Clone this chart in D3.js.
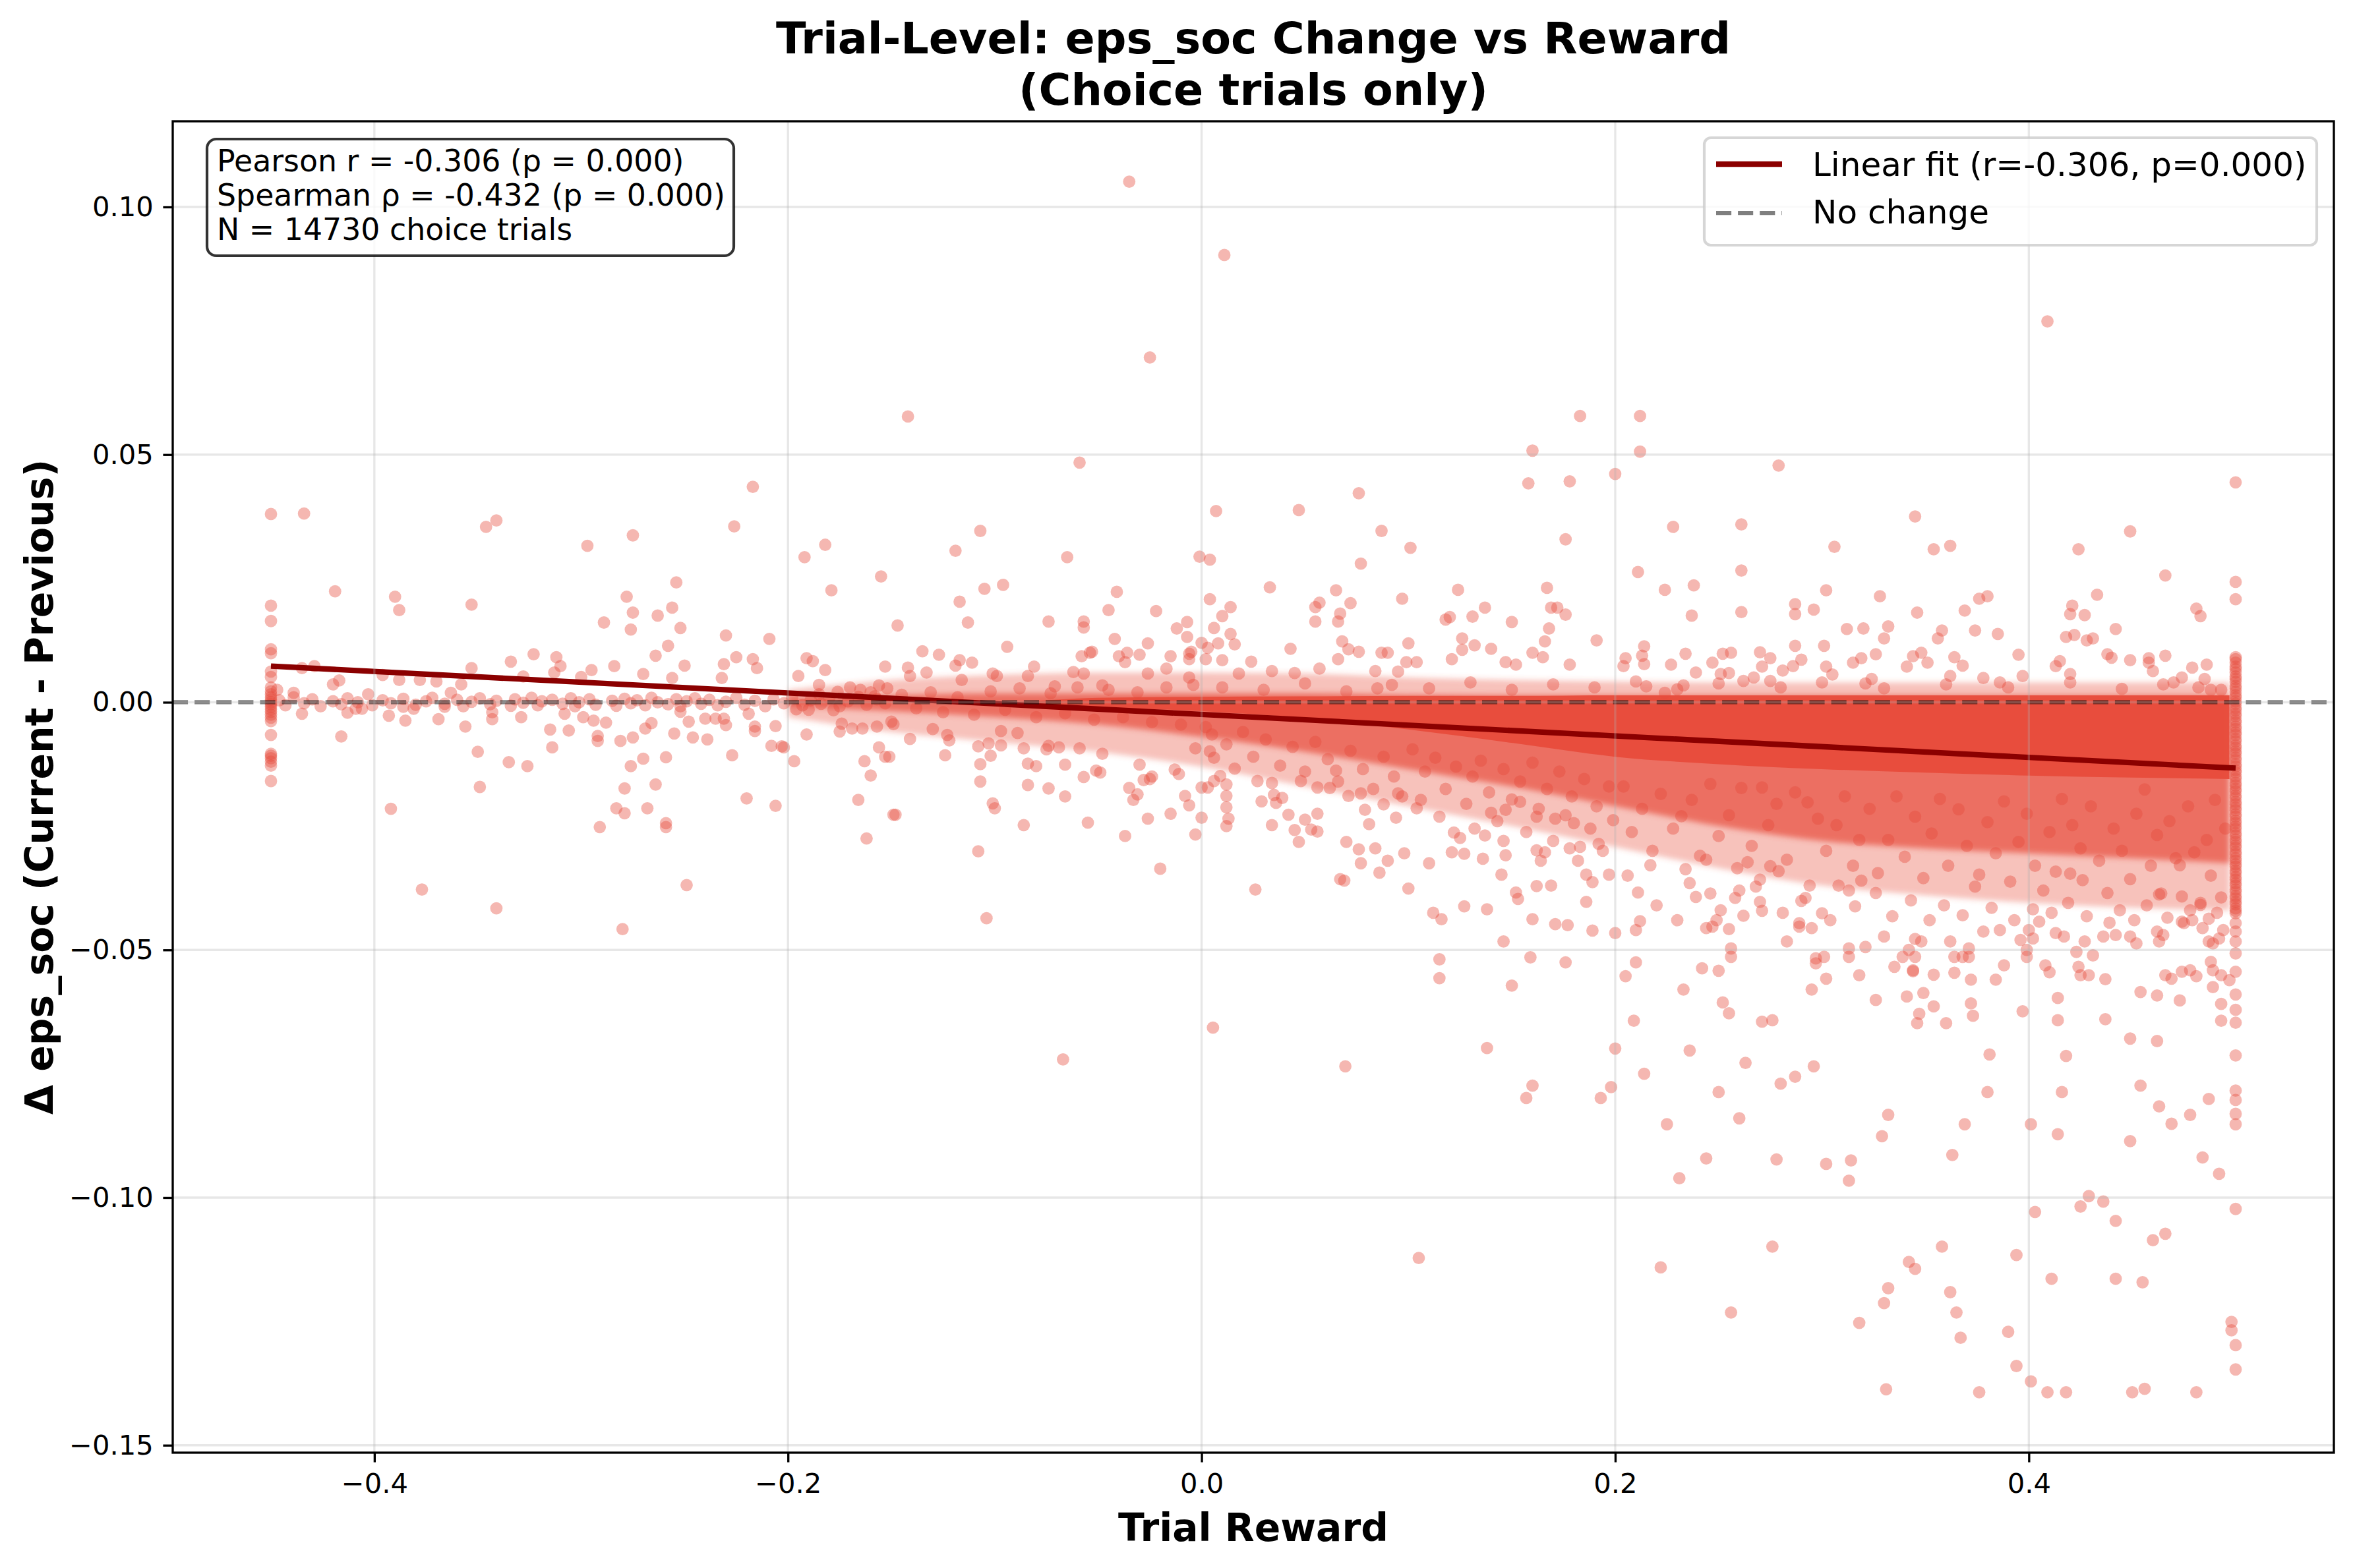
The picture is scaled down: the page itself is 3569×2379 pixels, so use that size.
<!DOCTYPE html>
<html><head><meta charset="utf-8">
<script src="https://cdn.jsdelivr.net/npm/d3@7"></script>
<style>body{margin:0;background:#fff}svg{display:block}</style>
</head><body>
<svg id="chart" width="3569" height="2379"></svg>
<script>
// ---------- data ----------
const xTicks = [-0.4, -0.2, 0.0, 0.2, 0.4];
const yTicks = [-0.15, -0.10, -0.05, 0.00, 0.05, 0.10];
const fitX = [-0.45, 0.5];
const fitY = [0.0073, -0.0133];
const statsLines = ["Pearson r = -0.306 (p = 0.000)", "Spearman \u03c1 = -0.432 (p = 0.000)", "N = 14730 choice trials"];
const legendLabels = ["Linear fit (r=-0.306, p=0.000)", "No change"];

// density envelope of the saturated cloud
const bandX     = [-0.20, -0.15, -0.10, -0.05, 0.00, 0.05, 0.10, 0.15, 0.20, 0.25, 0.30, 0.35, 0.40, 0.45, 0.497];
const outerTop  = [0.0025, 0.0045, 0.0055, 0.0060, 0.0060, 0.0058, 0.0050, 0.0045, 0.0042, 0.0040, 0.0040, 0.0040, 0.0040, 0.0040, 0.0040];
const outerBot  = [-0.0030, -0.0060, -0.0080, -0.0100, -0.0130, -0.0170, -0.0210, -0.0250, -0.0292, -0.0335, -0.0370, -0.0390, -0.0405, -0.0415, -0.0420];
const innerTop  = [0.0008, 0.0014, 0.0018, 0.0018, 0.0018, 0.0018, 0.0015, 0.0014, 0.0014, 0.0014, 0.0014, 0.0014, 0.0014, 0.0014, 0.0014];
const innerBot  = [-0.0008, -0.0018, -0.0030, -0.0045, -0.0070, -0.0100, -0.0135, -0.0170, -0.0210, -0.0250, -0.0280, -0.0295, -0.0305, -0.0315, -0.0325];
const coreTop   = [0.0000, 0.0000, 0.0000, 0.0009, 0.0011, 0.0012, 0.0013, 0.0013, 0.0014, 0.0014, 0.0014, 0.0014, 0.0014, 0.0014, 0.0014];
const coreBot   = [0.0000, 0.0000, 0.0000, -0.0010, -0.0018, -0.0032, -0.0055, -0.0082, -0.0110, -0.0125, -0.0135, -0.0142, -0.0148, -0.0152, -0.0155];

// individual trials, x = reward, y = change
const colLeftY = [0.038, 0.0195, 0.0164, 0.0107, 0.0099, 0.0062, 0.0051, 0.0030, 0.0022, 0.0016, 0.0010, 0.0005, 0.0000, -0.0004, -0.0009, -0.0014, -0.0019, -0.0025, -0.0031, -0.0038, -0.0066, -0.0104, -0.0108, -0.0113, -0.0120, -0.0128, -0.0159];
const colRightY = [0.0091, 0.0087, 0.0080, 0.0072, 0.0067, 0.0060, 0.0052, 0.0047, 0.0041, 0.0033, 0.0028, 0.0021, 0.0014, 0.0009, 0.0002, -0.0003, -0.0011, -0.0016, -0.0023, -0.0028, -0.0036, -0.0041, -0.0049, -0.0054, -0.0061, -0.0066, -0.0074, -0.0079, -0.0087, -0.0092, -0.0099, -0.0104, -0.0112, -0.0117, -0.0125, -0.0130, -0.0137, -0.0142, -0.0150, -0.0155, -0.0163, -0.0168, -0.0175, -0.0180, -0.0188, -0.0193, -0.0201, -0.0206, -0.0213, -0.0218, -0.0226, -0.0231, -0.0239, -0.0244, -0.0251, -0.0256, -0.0264, -0.0269, -0.0277, -0.0282, -0.0289, -0.0294, -0.0302, -0.0307, -0.0315, -0.0320, -0.0327, -0.0332, -0.0340, -0.0345, -0.0353, -0.0358, -0.0365, -0.0370, -0.0378, -0.0383, -0.0391, -0.0396, -0.0403, -0.0408, -0.0416, -0.0421, -0.0426, -0.0446, -0.0463, -0.0483, -0.0507, -0.0544, -0.0590, -0.0621, -0.0647, -0.0713, -0.0784, -0.0803, -0.0831, -0.0852, -0.1023, -0.1298, -0.1347];

const zeroRow = [[-0.446,0.0004],[-0.443,-0.0006],[-0.439,0.0010],[-0.434,-0.0002],[-0.430,0.0006],[-0.426,-0.0008],[-0.420,0.0002],[-0.416,-0.0004],[-0.413,0.0008],[-0.408,0.0000],[-0.401,-0.0006],[-0.396,0.0004],[-0.392,-0.0002],[-0.386,0.0007],[-0.380,-0.0005],[-0.375,0.0002],[-0.372,0.0009],[-0.366,-0.0003],[-0.360,0.0005],[-0.357,-0.0008],[-0.353,0.0001],[-0.349,0.0008],[-0.344,-0.0004],[-0.341,0.0003],[-0.334,-0.0007],[-0.332,0.0006],[-0.328,-0.0001],[-0.324,0.0009],[-0.321,-0.0006],[-0.319,0.0002],[-0.314,0.0005],[-0.309,-0.0003],[-0.305,0.0008],[-0.303,-0.0008],[-0.301,0.0000],[-0.296,0.0006],[-0.293,-0.0005],[-0.285,0.0003],[-0.283,-0.0007],[-0.279,0.0007],[-0.276,-0.0002],[-0.273,0.0004],[-0.269,-0.0006],[-0.266,0.0009],[-0.263,0.0000],[-0.258,-0.0004],[-0.254,0.0006],[-0.252,-0.0008],[-0.249,0.0002],[-0.245,0.0008],[-0.242,-0.0003],[-0.238,0.0005],[-0.234,-0.0006],[-0.230,0.0001],[-0.225,0.0009],[-0.221,-0.0005],[-0.216,0.0003],[-0.211,-0.0008],[-0.207,0.0006],[-0.202,-0.0002],[-0.198,0.0010],[-0.193,-0.0006],[-0.189,0.0004],[-0.184,-0.0003],[-0.180,0.0008],[-0.175,-0.0008],[-0.171,0.0002],[-0.166,0.0011],[-0.162,-0.0005],[-0.157,0.0006],[-0.153,-0.0002],[-0.170,0.0030],[-0.165,0.0025],[-0.160,0.0020],[-0.176,0.0021],[-0.152,0.0028],[-0.158,0.0012],[-0.185,0.0016],[-0.196,-0.0014],[-0.178,-0.0016]];

const ptsLeft = [[-0.434,0.0381],[-0.419,0.0224],[-0.390,0.0213],[-0.388,0.0186],[-0.353,0.0197],[-0.346,0.0354],[-0.341,0.0367],[-0.297,0.0316],[-0.275,0.0337],[-0.217,0.0435],[-0.226,0.0355],[-0.192,0.0293],[-0.182,0.0318],[-0.155,0.0254],[-0.179,0.0226],[-0.278,0.0213],[-0.275,0.0181],[-0.276,0.0147],[-0.289,0.0161],[-0.263,0.0175],[-0.256,0.0191],[-0.254,0.0242],[-0.252,0.0150],[-0.230,0.0135],[-0.209,0.0128],[-0.258,0.0114],[-0.264,0.0094],[-0.270,0.0057],[-0.250,0.0074],[-0.231,0.0077],[-0.225,0.0091],[-0.217,0.0087],[-0.215,0.0069],[-0.232,0.0049],[-0.191,0.0089],[-0.188,0.0083],[-0.182,0.0065],[-0.195,0.0053],[-0.153,0.0072],[-0.147,0.0155],[-0.156,0.0034],[-0.185,0.0035],[-0.256,0.0049],[-0.284,0.0073],[-0.295,0.0065],[-0.300,0.0051],[-0.312,0.0091],[-0.310,0.0073],[-0.313,0.0060],[-0.323,0.0097],[-0.334,0.0082],[-0.328,0.0052],[-0.353,0.0069],[-0.358,0.0036],[-0.363,0.0019],[-0.370,0.0042],[-0.378,0.0045],[-0.388,0.0045],[-0.396,0.0055],[-0.403,0.0016],[-0.417,0.0044],[-0.420,0.0036],[-0.429,0.0073],[-0.435,0.0069],[-0.439,0.0019],[-0.447,0.0025],[-0.435,-0.0023],[-0.416,-0.0069],[-0.413,-0.0021],[-0.409,-0.0013],[-0.406,-0.0013],[-0.393,-0.0027],[-0.386,-0.0009],[-0.385,-0.0037],[-0.381,-0.0013],[-0.369,-0.0034],[-0.366,-0.0009],[-0.356,-0.0049],[-0.350,-0.0100],[-0.349,-0.0171],[-0.392,-0.0215],[-0.377,-0.0378],[-0.341,-0.0416],[-0.343,-0.0034],[-0.343,-0.0020],[-0.335,-0.0121],[-0.329,-0.0030],[-0.326,-0.0129],[-0.315,-0.0055],[-0.314,-0.0091],[-0.308,-0.0023],[-0.306,-0.0057],[-0.299,-0.0030],[-0.294,-0.0037],[-0.292,-0.0068],[-0.292,-0.0078],[-0.288,-0.0041],[-0.281,-0.0078],[-0.276,-0.0129],[-0.275,-0.0071],[-0.279,-0.0174],[-0.283,-0.0214],[-0.279,-0.0224],[-0.291,-0.0252],[-0.280,-0.0458],[-0.270,-0.0114],[-0.268,-0.0214],[-0.264,-0.0166],[-0.259,-0.0111],[-0.259,-0.0244],[-0.259,-0.0252],[-0.255,-0.0063],[-0.249,-0.0369],[-0.266,-0.0042],[-0.269,-0.0053],[-0.252,-0.0019],[-0.248,-0.0039],[-0.246,-0.0071],[-0.239,-0.0075],[-0.240,-0.0033],[-0.235,-0.0033],[-0.231,-0.0033],[-0.230,-0.0046],[-0.227,-0.0107],[-0.220,-0.0194],[-0.219,-0.0023],[-0.216,-0.0049],[-0.216,-0.0058],[-0.208,-0.0088],[-0.206,-0.0048],[-0.206,-0.0209],[-0.203,-0.0089],[-0.202,-0.0091],[-0.197,-0.0119],[-0.191,-0.0065],[-0.190,-0.0015],[-0.175,-0.0059],[-0.174,-0.0043],[-0.169,-0.0053],[-0.164,-0.0053],[-0.163,-0.0119],[-0.160,-0.0148],[-0.156,-0.0091],[-0.166,-0.0197],[-0.162,-0.0275],[-0.153,-0.0110],[-0.157,-0.0049],[-0.150,-0.0039],[-0.149,-0.0227],[-0.149,-0.0044]];

const ptsMid = [[-0.142,0.0577],[-0.059,0.0484],[-0.025,0.0696],[0.183,0.0578],[0.160,0.0508],[0.158,0.0442],[0.178,0.0446],[0.076,0.0422],[0.200,0.0461],[0.047,0.0388],[0.007,0.0386],[0.087,0.0346],[0.101,0.0312],[0.176,0.0329],[0.077,0.0280],[-0.001,0.0294],[0.004,0.0288],[-0.065,0.0293],[-0.107,0.0346],[-0.119,0.0306],[-0.117,0.0203],[-0.105,0.0229],[-0.096,0.0237],[-0.113,0.0161],[-0.094,0.0112],[-0.135,0.0103],[-0.127,0.0096],[-0.074,0.0163],[-0.057,0.0163],[-0.057,0.0151],[-0.045,0.0186],[-0.041,0.0223],[-0.022,0.0184],[-0.042,0.0128],[-0.058,0.0093],[-0.053,0.0102],[-0.007,0.0162],[-0.012,0.0149],[-0.007,0.0132],[0.004,0.0208],[0.014,0.0192],[0.010,0.0174],[0.006,0.0150],[0.014,0.0138],[0.016,0.0117],[0.008,0.0119],[0.003,0.0110],[0.000,0.0120],[-0.005,0.0102],[0.010,0.0085],[-0.026,0.0119],[-0.036,0.0100],[0.033,0.0232],[0.043,0.0108],[0.024,0.0082],[0.065,0.0226],[0.072,0.0200],[0.057,0.0201],[0.055,0.0192],[0.067,0.0179],[0.055,0.0163],[0.066,0.0163],[0.068,0.0123],[0.071,0.0107],[0.076,0.0102],[0.066,0.0087],[0.097,0.0209],[0.100,0.0119],[0.124,0.0227],[0.118,0.0167],[0.120,0.0172],[0.131,0.0173],[0.137,0.0191],[0.150,0.0162],[0.126,0.0129],[0.126,0.0106],[0.132,0.0115],[0.140,0.0108],[0.167,0.0231],[0.169,0.0191],[0.172,0.0191],[0.176,0.0177],[0.168,0.0149],[0.166,0.0123],[0.160,0.0100],[0.165,0.0091],[0.191,0.0125],[0.178,0.0076],[0.090,0.0100],[0.087,0.0100],[0.099,0.0081],[0.104,0.0081],[0.152,0.0076],[0.147,0.0081],[0.121,0.0087],[0.084,0.0063],[0.095,0.0062],[0.085,0.0028],[0.057,0.0068],[0.045,0.0059],[0.034,0.0063],[0.018,0.0058],[0.002,0.0087],[-0.006,0.0087],[-0.006,0.0098],[-0.015,0.0093],[-0.030,0.0096],[-0.040,0.0093],[-0.054,0.0100],[-0.062,0.0061],[-0.081,0.0072],[-0.101,0.0058],[-0.111,0.0080],[-0.117,0.0085],[-0.119,0.0074],[-0.133,0.0060],[-0.142,0.0070],[-0.141,0.0053],[-0.116,0.0045],[-0.099,0.0053],[-0.084,0.0053],[-0.071,0.0032],[-0.057,0.0058],[-0.048,0.0034],[-0.037,0.0081],[-0.026,0.0058],[-0.017,0.0068],[-0.006,0.0050],
[-0.145,0.0015],[-0.138,-0.0012],[-0.131,0.0020],[-0.125,-0.0020],[-0.118,0.0010],[-0.110,-0.0025],[-0.102,0.0022],[-0.095,-0.0015],[-0.088,0.0028],[-0.080,-0.0030],[-0.073,0.0018],[-0.066,-0.0022],[-0.060,0.0030],[-0.052,-0.0035],[-0.045,0.0025],[-0.038,-0.0030],[-0.031,0.0020],[-0.024,-0.0040],[-0.017,0.0030],[-0.010,-0.0045],[-0.004,0.0035],[0.002,-0.0050],
[-0.151,-0.0110],[-0.148,-0.0227],[-0.141,-0.0074],[-0.130,-0.0054],[-0.123,-0.0066],[-0.122,-0.0077],[-0.124,-0.0107],[-0.108,-0.0089],[-0.107,-0.0125],[-0.107,-0.0160],[-0.103,-0.0083],[-0.102,-0.0108],[-0.101,-0.0204],[-0.100,-0.0214],[-0.108,-0.0301],[-0.104,-0.0436],[-0.097,-0.0087],[-0.097,-0.0058],[-0.089,-0.0062],[-0.086,-0.0093],[-0.084,-0.0124],[-0.084,-0.0167],[-0.086,-0.0248],[-0.080,-0.0129],[-0.075,-0.0095],[-0.074,-0.0088],[-0.074,-0.0174],[-0.069,-0.0091],[-0.066,-0.0126],[-0.066,-0.0190],[-0.059,-0.0093],[-0.057,-0.0151],[-0.055,-0.0243],[-0.051,-0.0138],[-0.049,-0.0142],[-0.048,-0.0104],[-0.037,-0.0270],[-0.035,-0.0173],[-0.033,-0.0197],[-0.031,-0.0186],[-0.030,-0.0126],[-0.028,-0.0157],[-0.025,-0.0155],[-0.024,-0.0150],[-0.026,-0.0235],[-0.020,-0.0336],[-0.015,-0.0225],[-0.013,-0.0136],[-0.011,-0.0145],[-0.008,-0.0189],[-0.006,-0.0208],[-0.003,-0.0267],[-0.003,-0.0093],[0.000,-0.0233],[0.000,-0.0172],[0.003,-0.0172],[0.004,-0.0099],[0.006,-0.0112],[0.006,-0.0159],[0.009,-0.0149],[0.012,-0.0166],[0.012,-0.0189],[0.012,-0.0212],[0.013,-0.0235],[0.012,-0.0250],[0.016,-0.0134],[0.027,-0.0159],[0.029,-0.0200],[0.034,-0.0163],[0.034,-0.0248],[0.026,-0.0378],[0.035,-0.0187],[0.036,-0.0203],[0.039,-0.0193],[0.042,-0.0227],[0.045,-0.0258],[0.047,-0.0282],[0.048,-0.0159],[0.050,-0.0237],[0.053,-0.0257],[0.056,-0.0225],[0.056,-0.0261],[0.056,-0.0172],[0.062,-0.0173],[0.065,-0.0138],[0.067,-0.0357],[0.069,-0.0360],[0.070,-0.0282],[0.071,-0.0189],[0.076,-0.0297],[0.077,-0.0325],[0.077,-0.0184],[0.079,-0.0217],[0.081,-0.0246],[0.084,-0.0295],[0.086,-0.0344],[0.088,-0.0206],[0.090,-0.0320],[0.094,-0.0233],[0.095,-0.0184],[0.098,-0.0305],[0.100,-0.0376],[0.104,-0.0214],[0.106,-0.0197],[0.110,-0.0325],[0.112,-0.0425],[0.116,-0.0438],[0.115,-0.0231],[0.122,-0.0263],[0.121,-0.0303],[0.125,-0.0274],[0.127,-0.0306],[0.127,-0.0412],[0.132,-0.0255],[0.136,-0.0316],[0.138,-0.0418],[0.137,-0.0269],[0.140,-0.0223],[0.145,-0.0348],[0.146,-0.0280],[0.147,-0.0217],[0.147,-0.0309],[0.152,-0.0384],[0.153,-0.0397],[0.160,-0.0438],[0.162,-0.0371],[0.162,-0.0299],[0.164,-0.0320],[0.166,-0.0303],[0.169,-0.0370],[0.186,-0.0348],[0.189,-0.0363],[0.186,-0.0403],[0.192,-0.0286],[0.197,-0.0348],[0.178,-0.0295],[0.183,-0.0292],[0.180,-0.0244],[0.171,-0.0235],[0.162,-0.0231],[0.154,-0.0201]];

const ptsHalo = [[0.102,-0.0095],[0.108,-0.0140],[0.113,-0.0112],[0.118,-0.0175],[0.123,-0.0130],[0.128,-0.0205],[0.131,-0.0150],[0.135,-0.0118],[0.139,-0.0182],[0.143,-0.0240],[0.146,-0.0135],[0.150,-0.0196],[0.154,-0.0160],[0.157,-0.0262],[0.160,-0.0122],[0.163,-0.0215],[0.167,-0.0175],[0.170,-0.0280],[0.173,-0.0140],[0.176,-0.0228],[0.179,-0.0190],[0.182,-0.0320],[0.185,-0.0155],[0.188,-0.0255],[0.191,-0.0210],[0.194,-0.0300],[0.197,-0.0170],[0.199,-0.0238],
[0.204,-0.0170],[0.208,-0.0262],[0.213,-0.0215],[0.218,-0.0300],[0.222,-0.0185],[0.228,-0.0255],[0.232,-0.0230],[0.237,-0.0197],[0.241,-0.0310],[0.246,-0.0165],[0.250,-0.0270],[0.255,-0.0228],[0.259,-0.0335],[0.261,-0.0173],[0.266,-0.0290],[0.271,-0.0172],[0.274,-0.0248],[0.278,-0.0205],[0.283,-0.0318],[0.287,-0.0182],[0.293,-0.0202],[0.298,-0.0235],[0.302,-0.0300],[0.307,-0.0248],[0.311,-0.0190],[0.315,-0.0330],[0.318,-0.0278],[0.323,-0.0215],[0.327,-0.0345],[0.332,-0.0278],[0.336,-0.0190],[0.340,-0.0312],[0.345,-0.0231],[0.349,-0.0355],[0.353,-0.0265],[0.357,-0.0195],[0.361,-0.0330],[0.366,-0.0216],[0.370,-0.0290],[0.374,-0.0372],[0.376,-0.0348],[0.380,-0.0242],[0.384,-0.0305],[0.388,-0.0200],[0.391,-0.0362],[0.395,-0.0282],[0.399,-0.0225],[0.403,-0.0330],[0.407,-0.0380],[0.410,-0.0262],[0.413,-0.0342],[0.416,-0.0195],[0.420,-0.0346],[0.421,-0.0248],[0.425,-0.0295],[0.426,-0.0359],[0.430,-0.0210],[0.434,-0.0320],[0.438,-0.0385],[0.441,-0.0255],[0.445,-0.0300],[0.449,-0.0357],[0.452,-0.0225],[0.456,-0.0176],[0.459,-0.0330],[0.462,-0.0268],[0.464,-0.0386],[0.468,-0.0240],[0.471,-0.0315],[0.473,-0.0329],[0.474,-0.0392],[0.477,-0.0210],[0.480,-0.0303],[0.483,-0.0409],[0.486,-0.0278],[0.488,-0.0350],[0.490,-0.0197],[0.493,-0.0394],[0.495,-0.0255],
[0.206,-0.0350],[0.220,-0.0410],[0.236,-0.0365],[0.249,-0.0440],[0.258,-0.0395],[0.268,-0.0372],[0.281,-0.0425],[0.292,-0.0395],[0.304,-0.0440],[0.316,-0.0412],[0.326,-0.0385],[0.334,-0.0432],[0.343,-0.0400],[0.352,-0.0440],[0.359,-0.0410],[0.368,-0.0430],[0.382,-0.0415],[0.393,-0.0440],[0.411,-0.0425],[0.419,-0.0405],[0.428,-0.0432],[0.444,-0.0420],[0.451,-0.0440],[0.457,-0.0410],[0.467,-0.0435],[0.479,-0.0440],[0.491,-0.0425],
[0.010,0.0030],[0.030,0.0025],[0.050,0.0038],[0.070,0.0022],[0.092,0.0035],[0.110,0.0028],[0.130,0.0040],[0.150,0.0025],[0.170,0.0036],[0.190,0.0030],[0.210,0.0042],[0.230,0.0026],[0.250,0.0038],[0.280,0.0030],[0.300,0.0040],[0.330,0.0028],[0.360,0.0036],[0.390,0.0030],[0.420,0.0040],[0.445,0.0027],[0.465,0.0036],[0.482,0.0030],
[0.005,-0.0065],[0.012,-0.0085],[0.020,-0.0060],[0.025,-0.0110],[0.031,-0.0075],[0.038,-0.0128],[0.044,-0.0090],[0.050,-0.0140],[0.055,-0.0080],[0.061,-0.0115],[0.066,-0.0160],[0.072,-0.0098],[0.078,-0.0135],[0.083,-0.0175],[0.088,-0.0110],[0.093,-0.0150],[0.097,-0.0190]];

const ptsRight = [[0.212,0.0578],[0.212,0.0506],[0.279,0.0478],[0.228,0.0354],[0.261,0.0359],[0.345,0.0375],[0.306,0.0314],[0.354,0.0309],[0.362,0.0316],[0.449,0.0345],[0.424,0.0309],[0.466,0.0256],[0.500,0.0444],[0.211,0.0263],[0.261,0.0266],[0.224,0.0227],[0.238,0.0236],[0.237,0.0175],[0.261,0.0182],[0.302,0.0226],[0.287,0.0198],[0.287,0.0178],[0.296,0.0187],[0.328,0.0214],[0.346,0.0181],[0.376,0.0209],[0.380,0.0214],[0.369,0.0185],[0.312,0.0148],[0.320,0.0149],[0.332,0.0153],[0.330,0.0129],[0.358,0.0145],[0.356,0.0129],[0.374,0.0145],[0.385,0.0138],[0.421,0.0195],[0.420,0.0178],[0.427,0.0176],[0.433,0.0217],[0.442,0.0148],[0.418,0.0132],[0.422,0.0136],[0.428,0.0125],[0.431,0.0129],[0.481,0.0189],[0.483,0.0174],[0.500,0.0243],[0.500,0.0208],[0.287,0.0114],[0.301,0.0114],[0.270,0.0101],[0.275,0.0089],[0.234,0.0098],[0.214,0.0113],[0.213,0.0094],[0.214,0.0077],[0.205,0.0089],[0.204,0.0073],[0.227,0.0076],[0.239,0.0060],[0.247,0.0080],[0.252,0.0098],[0.256,0.0100],[0.251,0.0057],[0.255,0.0059],[0.271,0.0072],[0.281,0.0064],[0.286,0.0073],[0.290,0.0086],[0.302,0.0072],[0.305,0.0056],[0.315,0.0080],[0.319,0.0089],[0.326,0.0097],[0.344,0.0093],[0.341,0.0072],[0.348,0.0100],[0.351,0.0080],[0.364,0.0091],[0.368,0.0074],[0.362,0.0053],[0.395,0.0096],[0.397,0.0053],[0.413,0.0073],[0.415,0.0083],[0.420,0.0057],[0.438,0.0097],[0.440,0.0090],[0.449,0.0085],[0.458,0.0089],[0.460,0.0063],[0.466,0.0094],[0.479,0.0070],[0.486,0.0076],[0.485,0.0047],[0.474,0.0050],[0.470,0.0040],[0.458,0.0080],[0.378,0.0049],[0.386,0.0040],[0.324,0.0047],[0.321,0.0038],[0.275,0.0043],[0.267,0.0050],[0.262,0.0043],[0.233,0.0034],[0.224,0.0019],[0.215,0.0032],[0.493,0.0025],[0.488,0.0025],
[0.211,-0.0384],[0.217,-0.0329],[0.234,-0.0337],[0.244,-0.0318],[0.212,-0.0442],[0.230,-0.0440],[0.239,-0.0393],[0.246,-0.0386],[0.251,-0.0420],[0.260,-0.0380],[0.262,-0.0431],[0.270,-0.0403],[0.271,-0.0421],[0.264,-0.0323],[0.270,-0.0358],[0.275,-0.0331],[0.279,-0.0341],[0.290,-0.0401],[0.294,-0.0370],[0.289,-0.0446],[0.300,-0.0426],[0.308,-0.0370],[0.313,-0.0380],[0.319,-0.0360],[0.402,-0.0418],[0.405,-0.0443],[0.439,-0.0445],[0.487,-0.0437],[0.483,-0.0405],[0.478,-0.0420],[0.474,-0.0443],[0.463,-0.0388]];

const ptsLow = [[-0.067,-0.0721],[0.0055,-0.0657],[0.0695,-0.0735],[0.105,-0.1122],[0.138,-0.0698],[0.115,-0.0519],[0.115,-0.0557],[0.146,-0.0483],[0.150,-0.0572],[0.159,-0.0515],[0.160,-0.0774],[0.157,-0.0799],[0.176,-0.0525],[0.189,-0.0461],[0.193,-0.0799],[0.198,-0.0777],[0.200,-0.0699],[0.205,-0.0553],[0.209,-0.0643],[0.210,-0.0525],[0.214,-0.0750],[0.222,-0.1141],[0.225,-0.0852],[0.231,-0.0961],[0.233,-0.0580],[0.236,-0.0703],[0.242,-0.0537],[0.244,-0.0921],[0.250,-0.0542],[0.250,-0.0787],[0.252,-0.0606],[0.255,-0.0628],[0.256,-0.1232],[0.256,-0.0497],[0.260,-0.0840],[0.263,-0.0728],[0.271,-0.0645],[0.276,-0.0642],[0.276,-0.1099],[0.278,-0.0923],[0.280,-0.0770],[0.287,-0.0756],[0.295,-0.0580],[0.296,-0.0735],[0.297,-0.0527],[0.302,-0.0558],[0.302,-0.0932],[0.314,-0.0925],[0.313,-0.0966],[0.318,-0.1253],[0.318,-0.0551],[0.326,-0.0601],[0.329,-0.0876],[0.330,-0.1213],[0.331,-0.1387],[0.332,-0.1183],[0.332,-0.0833],[0.335,-0.0534],[0.341,-0.0594],[0.342,-0.1130],[0.345,-0.1144],[0.344,-0.0543],[0.346,-0.0648],[0.347,-0.0629],[0.349,-0.0587],[0.354,-0.0614],[0.354,-0.0550],[0.358,-0.1099],[0.360,-0.0648],[0.362,-0.1191],[0.363,-0.0914],[0.364,-0.0546],[0.365,-0.1232],[0.367,-0.1283],[0.369,-0.0852],[0.372,-0.0560],[0.372,-0.0608],[0.373,-0.0633],[0.376,-0.1393],[0.380,-0.0787],[0.381,-0.0711],[0.384,-0.0560],[0.388,-0.0531],[0.390,-0.1271],[0.394,-0.1116],[0.394,-0.1340],[0.397,-0.0624],[0.401,-0.0852],[0.401,-0.1371],[0.403,-0.1029],[0.409,-0.1393],[0.411,-0.1164],[0.414,-0.0872],[0.414,-0.0642],[0.414,-0.0597],[0.416,-0.0787],[0.418,-0.0714],[0.418,-0.1393],[0.425,-0.1018],[0.429,-0.0997],[0.423,-0.0504],[0.425,-0.0551],[0.429,-0.0551],[0.436,-0.1008],[0.437,-0.0559],[0.437,-0.0640],[0.442,-0.1047],[0.442,-0.1164],[0.449,-0.0886],[0.449,-0.0679],[0.450,-0.1393],[0.454,-0.0774],[0.454,-0.0585],[0.455,-0.1171],[0.456,-0.1386],[0.460,-0.1086],[0.462,-0.0592],[0.462,-0.0684],[0.463,-0.0816],[0.466,-0.1073],[0.469,-0.0851],[0.473,-0.0602],[0.478,-0.0833],[0.481,-0.1393],[0.484,-0.0919],[0.487,-0.0801],[0.489,-0.0575],[0.492,-0.0952],[0.493,-0.0609],[0.493,-0.0643],[0.498,-0.1251],[0.498,-0.1268],[0.492,-0.0477],[0.171,-0.0448],[0.200,-0.0466],
[0.378,-0.0463],[0.386,-0.0460],[0.400,-0.0460],[0.396,-0.0480],[0.399,-0.0500],[0.399,-0.0514],[0.402,-0.0477],[0.413,-0.0466],[0.417,-0.0473],[0.427,-0.0483],[0.431,-0.0511],[0.436,-0.0473],[0.442,-0.0470],[0.449,-0.0473],[0.452,-0.0487],[0.462,-0.0463],[0.465,-0.0470],[0.463,-0.0483],[0.475,-0.0446],[0.484,-0.0456],[0.487,-0.0483],[0.489,-0.0487],[0.494,-0.0460],[0.488,-0.0524],[0.489,-0.0541],[0.493,-0.0551],[0.497,-0.0561],[0.478,-0.0541],[0.481,-0.0553],[0.469,-0.0558],[0.466,-0.0551],[0.474,-0.0544],[0.424,-0.0534],[0.408,-0.0531],[0.410,-0.0545],[0.371,-0.0514],[0.364,-0.0514],[0.368,-0.0514],[0.344,-0.0541],[0.339,-0.0514],[0.342,-0.0500],[0.345,-0.0514],[0.348,-0.0483],[0.345,-0.0478],[0.362,-0.0483],[0.371,-0.0497],[0.330,-0.0473],[0.321,-0.0494],[0.313,-0.0497],[0.313,-0.0514],[0.301,-0.0514],[0.297,-0.0517],[0.283,-0.0483],[0.295,-0.0456],[0.289,-0.0453],[0.255,-0.0458],[0.244,-0.0456],[0.247,-0.0453],[0.256,-0.0514],[0.210,-0.0460],[0.177,-0.0450]];

const ptsTop = [[-0.035,0.1051],[0.011,0.0903],[0.409,0.0769]];

// ---------- layout ----------
const W = 3569, H = 2379;
const L = 262, R = 3540, T = 184, B = 2204;
const FONT = "'DejaVu Sans', 'Liberation Sans', sans-serif";
const RED = "#e74c3c";

const x = d3.scaleLinear().domain([-0.4975, 0.5475]).range([L, R]);
const y = d3.scaleLinear().domain([-0.1515, 0.1173]).range([B, T]);

const svg = d3.select("#chart");
svg.append("rect").attr("width", W).attr("height", H).attr("fill", "#fff");

const defs = svg.append("defs");
defs.append("clipPath").attr("id", "plotclip").append("rect")
  .attr("x", L).attr("y", T).attr("width", R - L).attr("height", B - T);
defs.append("filter").attr("id", "soft").attr("x", "-5%").attr("y", "-20%").attr("width", "110%").attr("height", "140%")
  .append("feGaussianBlur").attr("stdDeviation", 4);

const plot = svg.append("g").attr("clip-path", "url(#plotclip)");

// density envelopes
const band = bandX.map((v, i) => ({x: v, ot: outerTop[i], ob: outerBot[i], it: innerTop[i], ib: innerBot[i], ct: coreTop[i], cb: coreBot[i]}));
const areaOf = (top, bot) => d3.area().x(d => x(d.x)).y0(d => y(d[bot])).y1(d => y(d[top])).curve(d3.curveMonotoneX);
plot.append("path").datum(band).attr("d", areaOf("ot", "ob")).attr("fill", RED).attr("fill-opacity", 0.35).attr("filter", "url(#soft)");
plot.append("path").datum(band).attr("d", areaOf("it", "ib")).attr("fill", RED).attr("fill-opacity", 0.70).attr("filter", "url(#soft)");
plot.append("path").datum(band).attr("d", areaOf("ct", "cb")).attr("fill", RED).attr("fill-opacity", 0.97);

// scatter
const allPts = [].concat(
  colLeftY.map(v => [-0.45, v]),
  zeroRow, ptsLeft, ptsMid, ptsHalo, ptsRight, ptsLow, ptsTop,
  colRightY.map(v => [0.5, v])
);
plot.append("g").selectAll("circle").data(allPts).join("circle")
  .attr("cx", d => x(d[0])).attr("cy", d => y(d[1])).attr("r", 9.4)
  .attr("fill", RED).attr("fill-opacity", 0.4);

// grid
const grid = svg.append("g").attr("stroke", "#b0b0b0").attr("stroke-opacity", 0.3).attr("stroke-width", 3.33);
grid.selectAll("line.gx").data(xTicks).join("line").attr("class", "gx")
  .attr("x1", d => x(d)).attr("x2", d => x(d)).attr("y1", T).attr("y2", B);
grid.selectAll("line.gy").data(yTicks).join("line").attr("class", "gy")
  .attr("y1", d => y(d)).attr("y2", d => y(d)).attr("x1", L).attr("x2", R);

// fit line
plot.append("path").datum(fitX.map((v, i) => [v, fitY[i]]))
  .attr("d", d3.line().x(d => x(d[0])).y(d => y(d[1])))
  .attr("fill", "none").attr("stroke", "#8b0000").attr("stroke-width", 8.33);

// zero line
plot.append("line").attr("x1", L).attr("x2", R).attr("y1", y(0)).attr("y2", y(0))
  .attr("stroke", "#000").attr("stroke-opacity", 0.5).attr("stroke-width", 6.25)
  .attr("stroke-dasharray", "23.1,10");

// axes
const xAxis = svg.append("g").attr("transform", `translate(0,${B})`)
  .call(d3.axisBottom(x).tickValues(xTicks).tickFormat(d3.format(".1f")).tickSize(14.6).tickSizeOuter(0).tickPadding(17));
const yAxis = svg.append("g").attr("transform", `translate(${L},0)`)
  .call(d3.axisLeft(y).tickValues(yTicks).tickFormat(d3.format(".2f")).tickSize(14.6).tickSizeOuter(0).tickPadding(14.6));
[xAxis, yAxis].forEach(a => {
  a.select(".domain").remove();
  a.selectAll(".tick line").attr("stroke", "#000").attr("stroke-width", 3.33);
  a.selectAll(".tick text").attr("font-family", FONT).attr("font-size", 41.7).attr("fill", "#000");
});

// spines
svg.append("rect").attr("x", L).attr("y", T).attr("width", R - L).attr("height", B - T)
  .attr("fill", "none").attr("stroke", "#000").attr("stroke-width", 3.33);

// title and labels
const title = svg.append("text").attr("font-family", FONT).attr("font-weight", "bold").attr("font-size", 66.7)
  .attr("text-anchor", "middle").attr("fill", "#000");
title.append("tspan").attr("x", (L + R) / 2).attr("y", 81).text("Trial-Level: eps_soc Change vs Reward");
title.append("tspan").attr("x", (L + R) / 2).attr("y", 159).text("(Choice trials only)");

svg.append("text").attr("x", (L + R) / 2).attr("y", 2338).attr("text-anchor", "middle")
  .attr("font-family", FONT).attr("font-weight", "bold").attr("font-size", 58.3).text("Trial Reward");
svg.append("text").attr("transform", `translate(80,${(T + B) / 2}) rotate(-90)`).attr("text-anchor", "middle")
  .attr("font-family", FONT).attr("font-weight", "bold").attr("font-size", 58.3).text("\u0394 eps_soc (Current - Previous)");

// stats box
svg.append("rect").attr("x", 314).attr("y", 211).attr("width", 799).attr("height", 177).attr("rx", 14)
  .attr("fill", "#fff").attr("fill-opacity", 0.8).attr("stroke", "#000").attr("stroke-opacity", 0.8).attr("stroke-width", 4.17);
svg.append("g").selectAll("text").data(statsLines).join("text")
  .attr("x", 329).attr("y", (d, i) => 260 + i * 52.2)
  .attr("font-family", FONT).attr("font-size", 45.8).attr("fill", "#000").text(d => d);

// legend
svg.append("rect").attr("x", 2585).attr("y", 209).attr("width", 929).attr("height", 163).attr("rx", 10)
  .attr("fill", "#fff").attr("fill-opacity", 0.8).attr("stroke", "#ccc").attr("stroke-opacity", 0.8).attr("stroke-width", 4.17);
svg.append("line").attr("x1", 2603).attr("x2", 2703).attr("y1", 249).attr("y2", 249)
  .attr("stroke", "#8b0000").attr("stroke-width", 8.33);
svg.append("line").attr("x1", 2603).attr("x2", 2703).attr("y1", 323).attr("y2", 323)
  .attr("stroke", "#000").attr("stroke-opacity", 0.5).attr("stroke-width", 6.25).attr("stroke-dasharray", "23.1,10");
svg.append("g").selectAll("text").data(legendLabels).join("text")
  .attr("x", 2749).attr("y", (d, i) => 267 + i * 72)
  .attr("font-family", FONT).attr("font-size", 50).attr("fill", "#000").text(d => d);
</script>
</body></html>
